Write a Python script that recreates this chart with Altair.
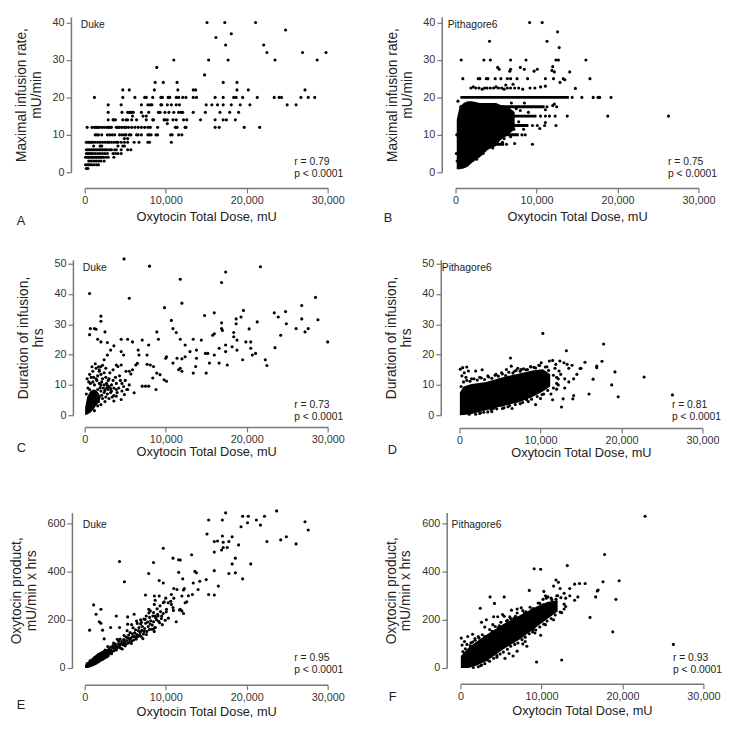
import altair as alt
import pandas as pd

FONT = "Liberation Sans"
X_TICKS = [0, 10000, 20000, 30000]
X_TITLE = "Oxytocin Total Dose, mU"

# ---------------- Panel A (Duke, maximal infusion rate) : (rate, [dose in thousands mU])
A_rows = [
    (1, [0.2, 0.4]),
    (2, [0.1, 0.3, 0.5, 0.7, 0.9, 1.2, 1.5, 1.7]),
    (3, [0.5, 0.8, 1.1, 1.4, 1.7, 2.0, 2.4]),
    (4, [0.1, 0.3, 0.5, 0.7, 0.9, 1.1, 1.3, 1.5, 1.7, 1.9, 2.1, 2.3, 2.6, 2.9, 3.6]),
    (5, [0.2, 0.4, 0.6, 0.8, 1.0, 1.3, 1.6, 1.9, 2.2, 2.5, 2.8, 3.5, 3.8, 4.1, 4.5]),
    (6, [0.2, 0.4, 0.6, 0.8, 1.0, 1.2, 1.4, 1.6, 1.8, 2.0, 2.2, 2.4, 2.6, 2.8, 3.1, 3.3, 3.7, 3.9, 4.5, 5.3, 5.7]),
    (7, [1.1, 1.9, 2.1, 4.1, 4.7, 4.9]),
    (8, [0.2, 0.4, 0.6, 0.8, 1.0, 1.3, 1.6, 1.9, 2.2, 2.5, 2.8, 3.0, 3.3, 3.6, 3.9, 4.1, 4.5, 4.9, 5.3, 6.1, 6.7, 7.8, 8.0, 10.7]),
    (9, [4.9, 5.3]),
    (10, [1.3, 1.5, 1.7, 2.1, 2.8, 3.1, 3.4, 3.7, 4.3, 4.6, 4.9, 5.1, 5.5, 5.7, 6.4, 6.6, 7.0, 7.8, 8.0, 8.2, 8.8, 9.0, 10.6, 10.8, 11.6, 12.0]),
    (12, [0.3, 0.9, 1.2, 1.4, 1.6, 1.8, 2.1, 2.4, 2.7, 2.9, 3.1, 3.3, 3.9, 4.1, 4.3, 4.6, 4.9, 5.1, 5.4, 5.8, 6.2, 6.6, 7.0, 7.4, 7.8, 8.1, 9.0, 11.2, 11.4, 12.4, 12.5, 16.1, 16.6, 19.7, 21.6]),
    (13, [10.2]),
    (14, [2.9, 3.5, 3.6, 3.8, 4.7, 5.1, 5.3, 5.8, 6.4, 7.6, 8.4, 8.5, 9.8, 9.9, 10.2, 10.9, 11.3, 12.2, 12.6, 14.3, 16.1, 17.1, 17.5, 18.6]),
    (15, [5.9, 7.2, 7.6]),
    (16, [2.9, 4.6, 5.3, 5.5, 5.7, 5.8, 6.0, 7.0, 7.9, 9.1, 9.3, 9.9, 10.4, 11.0, 11.6, 11.9, 12.1, 13.4, 14.9, 16.7, 17.9, 19.0]),
    (18, [2.9, 4.5, 7.0, 7.8, 8.1, 8.3, 9.4, 9.5, 10.2, 10.7, 11.3, 11.7, 15.0, 15.7, 16.4, 17.1, 18.1, 19.2, 20.4, 25.0, 26.1]),
    (20, [1.2, 4.7, 6.2, 7.4, 7.6, 8.4, 9.4, 9.6, 10.3, 10.5, 11.3, 11.6, 12.1, 12.5, 13.4, 13.8, 16.1, 17.1, 18.4, 18.7, 19.5, 21.3, 23.4, 24.0, 24.3, 26.7, 27.6, 28.4]),
    (22, [4.7, 5.5, 8.6, 11.5, 13.4, 13.7, 18.8, 20.2, 27.2]),
    (24, [8.7, 9.7, 11.4, 17.1, 18.8]),
    (26, [14.8]),
    (28, [8.9]),
    (30, [11.0, 15.3, 17.7, 23.5, 28.7]),
    (32, [22.5, 26.9, 29.8]),
    (34, [17.4, 22.1]),
    (36, [16.2]),
    (37, [18.1]),
    (38, [24.8]),
    (40, [15.1, 17.3, 21.1]),
]

# ---------------- Panel B (Pithagore6, maximal infusion rate)
B_points = [
    (9.15, 40), (10.7, 40), (12.6, 37.5), (4.2, 35), (11.3, 35), (12.8, 33.3),
    (0.7, 30), (3.5, 30), (4.3, 30), (6.8, 30), (8.7, 30), (12.4, 30), (12.7, 30), (16.1, 30),
    (5.2, 28), (5.4, 27.5), (6.8, 27.5), (6.7, 27), (8.0, 28), (8.5, 27.5), (9.7, 27), (10.1, 27.5),
    (11.9, 27.2), (12.0, 28.2), (12.2, 26.8), (14.1, 26.8),
    (0.9, 25), (2.8, 25), (3.0, 25), (3.8, 25), (4.0, 25), (4.9, 25), (5.6, 25), (6.4, 25), (6.8, 25),
    (7.6, 25), (8.9, 25), (11.1, 25), (12.1, 25), (13.3, 25), (16.6, 25), (12.9, 24), (13.5, 24.7),
    (1.9, 22.5), (2.2, 22.8), (2.5, 22.5), (2.9, 22.5), (3.3, 22.2), (3.6, 22.5), (3.9, 22.5), (4.3, 22.5),
    (4.7, 22.5), (5.0, 22.8), (5.3, 22.5), (5.7, 22.5), (6.0, 22.2), (6.4, 22.5), (6.8, 22.5), (7.3, 22.5),
    (7.8, 22.5), (8.3, 22.2), (9.2, 22.5), (9.8, 22.5), (10.5, 22.8), (11.1, 23), (6.2, 23.3), (7.1, 23.5),
    (14.8, 22.4), (14.4, 20), (15.6, 20), (17.0, 20), (17.6, 20), (17.8, 20), (19.2, 20),
    (12.2, 18.2), (12.5, 17.5), (11.1, 16.7), (12.0, 17.8), (11.3, 17.5),
    (10.5, 15), (11.1, 15), (11.6, 15), (12.3, 15), (13.8, 15), (18.8, 15), (26.3, 15),
    (11.1, 13.3), (12.4, 12.5), (10.4, 11.7), (9.5, 12.5), (10.1, 12.5), (11.0, 12.5),
    (8.2, 10), (8.6, 10), (7.3, 7.7), (9.5, 7.5), (6.3, 7.5), (6.0, 9), (5.8, 8),
    (7.0, 16), (7.5, 17), (8.0, 16.5), (8.5, 18.5), (9.0, 16), (6.9, 18.5), (7.2, 11.5), (7.8, 13.5),
    (8.4, 11.5), (6.8, 9.5), (0.1, 5), (0.2, 3), (0.15, 10), (0.3, 19), (2.6, 3.5), (3.4, 5), (4.6, 6.5),
]
B_band_rate = [20, 17.5, 15, 12.5, 10, 7.5]
B_band_from = [0.6, 0.5, 0.3, 0.3, 0.2, 0.2]
B_band_to = [14.0, 11.0, 10.0, 9.0, 7.8, 6.0]
B_core_dose = [0.15, 0.5, 1.0, 1.5, 2.0, 3.0, 4.0, 5.0, 5.5, 6.5, 7.3]
B_core_low = [0.8, 0.8, 1.0, 1.5, 2.5, 4.0, 6.0, 7.0, 8.5, 10.0, 11.5]
B_core_high = [14, 17.5, 18.5, 19, 19, 18.5, 18.5, 18.5, 18, 17.5, 16]

# ---------------- Panel C (Duke, duration of infusion)
C_points = [
    (4.86, 51.6), (8.0, 49.2), (21.7, 49.0), (17.4, 47.3), (11.8, 44.9), (16.9, 43.8), (0.6, 40.2),
    (12.0, 37.0), (5.5, 38.6), (28.5, 38.9), (9.85, 35.5), (26.8, 36.2), (19.6, 34.6), (24.8, 34.2),
    (23.4, 33.8), (23.9, 32.4), (16.0, 33.8), (14.8, 32.9), (19.3, 32.4), (2.0, 32.7), (16.9, 30.5),
    (18.7, 31.8), (10.7, 31.3), (26.8, 31.8), (28.8, 31.5), (21.3, 30.8), (18.7, 30.2), (2.0, 31.0),
    (24.9, 30.2), (26.1, 28.6), (27.2, 27.5), (27.6, 28.6), (20.3, 28.5), (16.9, 28.6), (17.0, 28.0),
    (10.9, 28.6), (11.3, 27.3), (8.9, 27.5), (0.6, 26.6), (0.7, 28.6), (1.2, 28.6), (1.4, 28.4),
    (2.5, 27.5), (24.2, 26.4), (15.8, 26.4), (16.0, 26.9), (18.4, 27.3), (18.4, 25.9), (18.8, 24.8),
    (19.9, 24.2), (20.5, 24.2), (30.0, 24.2), (13.4, 25.1), (14.4, 24.8), (11.8, 25.1), (9.1, 25.1),
    (4.5, 25.1), (5.3, 25.1), (5.9, 24.2), (1.6, 25.1), (2.0, 24.2), (2.8, 24.0), (3.6, 22.9),
    (7.1, 24.8), (7.9, 23.2), (12.4, 23.2), (17.4, 23.2), (18.2, 22.6), (23.5, 22.3), (16.6, 22.1),
    (18.8, 21.5), (20.5, 22.1), (17.4, 21.0), (13.0, 21.0), (13.8, 21.5), (14.9, 20.4), (15.2, 20.4),
    (16.0, 19.9), (20.7, 19.9), (21.1, 20.4), (22.3, 18.3), (22.5, 16.4), (19.5, 18.3), (17.6, 16.6),
    (16.6, 17.2), (15.4, 17.2), (15.0, 13.9), (13.4, 13.9), (13.7, 16.1), (13.8, 18.8), (12.4, 19.3),
    (11.4, 18.8), (12.0, 18.6), (10.9, 17.2), (11.6, 15.0), (12.0, 14.5), (11.8, 15.5), (10.1, 19.3),
    (10.0, 18.8), (9.8, 11.7), (10.1, 11.2), (9.3, 13.4), (8.9, 13.9), (8.4, 12.3), (8.5, 16.1),
    (7.7, 16.8), (8.1, 16.6), (7.9, 9.6), (7.1, 9.6), (7.5, 9.6), (8.8, 8.5), (7.7, 19.9), (6.6, 21.5),
    (6.7, 19.9), (6.3, 16.6), (6.5, 17.1), (5.9, 15.0), (5.5, 14.5), (5.1, 14.5), (5.7, 13.6),
    (4.5, 16.6), (3.9, 16.6), (4.1, 16.1), (4.8, 19.9), (4.5, 21.0), (3.2, 21.5), (2.8, 19.9),
    (2.4, 18.3), (2.0, 16.1), (1.4, 15.5), (1.8, 14.5), (6.1, 7.4), (5.3, 8.5), (4.9, 6.8), (4.5, 5.2),
    (3.9, 6.3), (3.6, 4.7),
    (0.3, 12), (0.5, 11), (0.7, 10.5), (1.0, 11), (1.2, 10), (1.5, 11.5), (1.8, 10.5), (2.1, 11),
    (2.4, 10), (2.7, 10.5), (3.0, 9.5), (3.3, 10), (3.6, 9), (3.9, 8.5), (4.2, 9), (2.2, 12),
    (2.6, 12.5), (3.0, 12), (3.5, 11.5), (1.6, 13), (2.0, 13.5), (2.4, 14), (1.2, 8), (1.6, 8.5),
    (2.0, 8), (2.4, 7.5), (2.8, 7), (3.2, 7.5), (3.6, 6.5), (1.8, 6), (2.2, 5.5), (2.6, 6), (2.3, 9),
    (2.7, 9), (2.9, 8.5), (3.3, 8), (4.0, 7.5), (3.4, 6), (0.8, 12.5), (1.0, 14.5), (1.8, 15),
    (2.6, 15.5), (0.9, 16), (1.3, 17), (1.7, 16), (2.2, 16.5), (4.6, 10.5), (5.0, 11.5), (5.5, 10),
    (4.8, 9.5), (3.8, 12.5), (4.3, 13), (3.1, 14), (3.5, 15), (4.4, 11.5), (1.4, 12), (2.9, 11.5),
    (3.9, 10.5), (5.2, 8.5), (4.6, 8), (2.0, 10), (1.1, 12.5), (0.6, 13.5), (0.4, 9), (1.4, 4),
    (1.7, 4.5), (2.0, 3.5), (1.0, 2.5), (1.2, 1.5), (0.9, 7), (2.5, 4.5), (0.2, 7), (0.6, 8.5), (3.0, 5.5),
    (2.1, 6.6), (2.5, 8.2), (1.5, 7.2), (1.9, 9.1), (2.8, 9.8), (3.2, 8.8), (1.3, 5.6), (1.6, 3.1),
]
C_core_dose = [0.05, 0.3, 0.7, 1.1, 1.5, 1.9]
C_core_low = [0, 0.2, 0.8, 2.0, 3.5, 5.0]
C_core_high = [2.5, 6.0, 8.0, 8.5, 8.0, 6.5]

# ---------------- Panel D (Pithagore6, duration of infusion)
D_points = [
    (10.3, 27.0), (17.8, 23.5), (13.2, 21.3), (6.3, 18.9), (15.5, 17.5), (17.6, 17.8), (16.95, 16.2),
    (16.95, 15.7), (19.2, 14.3), (22.8, 12.6), (14.9, 15.4), (13.9, 16.5), (13.5, 15.5), (16.5, 11.9),
    (18.8, 10.0), (19.6, 6.1), (26.3, 6.7), (16.0, 7.0), (14.1, 6.5), (12.8, 5.4), (14.0, 5.4),
    (11.5, 5.1), (9.4, 3.5), (12.6, 2.7), (6.5, 2.2), (5.3, 2.2), (4.2, 2.2), (3.25, 2.7), (5.1, 3.3),
    (10.2, 6.8), (11.3, 7.0), (12.0, 8.6), (0.9, 15.9), (0.4, 15.7), (0.1, 15.2), (1.1, 14.6),
    (0.6, 14.0), (2.0, 14.6), (2.8, 15.0), (5.8, 15.1), (6.4, 16.2), (7.6, 15.1), (8.8, 15.9),
    (10.1, 17.3), (11.1, 17.9), (11.5, 18.1), (11.9, 16.8), (12.4, 17.9), (12.9, 17.3), (13.3, 16.8),
    (12.3, 14.6), (12.5, 13.5), (11.8, 15.5), (10.8, 16.0), (9.8, 16.5), (12.0, 12.5), (13.0, 12.0),
    (11.0, 10.5), (12.2, 10.0), (13.5, 11.0), (14.1, 12.0), (0.3, 13.0), (0.8, 12.5), (1.5, 12.0),
    (2.5, 12.5), (3.5, 13.0), (4.5, 13.5), (5.2, 14.0), (6.8, 14.5), (7.2, 15.5), (8.2, 15.0),
    (9.2, 15.8), (1.2, 0.3), (2.5, 0.6), (4.0, 1.2), (6.0, 2.8), (7.5, 3.8), (8.5, 4.5), (10.0, 5.5),
    (3.0, 1.0), (15.0, 15.5), (14.5, 13.5), (13.0, 9.0), (9.0, 12.0),
    (0.2, 9.5), (0.5, 11), (0.9, 11.5), (1.3, 11.2), (1.8, 12), (2.2, 11.6), (2.7, 12.3), (3.1, 11.8),
    (3.6, 12.6), (4.0, 12.2), (4.4, 13.2), (4.8, 12.9), (5.3, 13.6), (5.7, 13.1), (6.1, 14.2),
    (6.6, 13.9), (7.0, 14.8), (7.5, 14.5), (7.9, 15.3), (8.4, 15.1), (8.8, 16.1), (9.4, 15.6),
    (9.9, 16.4), (10.6, 15.9), (11.0, 14.8), (11.6, 13.2), (12.2, 12.0),
    (2.0, 0.3), (2.6, 0.8), (3.5, 1.1), (3.9, 1.9), (4.6, 2.1), (5.5, 2.5), (6.2, 3.2), (6.9, 3.5),
    (7.8, 4.2), (8.3, 5.1), (8.9, 5.3), (9.6, 6.2), (10.4, 7.0), (10.9, 8.2), (11.6, 9.0), (12.0, 10.5),
]
D_core_dose = [0.05, 0.5, 1.5, 3.3, 5.0, 7.4, 9.0, 10.3, 11.2]
D_core_low = [0, 0.1, 0.4, 1.6, 2.8, 4.3, 6.0, 7.8, 9.5]
D_core_high = [7.5, 9.5, 10.3, 11.0, 12.3, 13.8, 14.8, 15.2, 13.5]

# ---------------- Panel E (Duke, oxytocin product)
E_points = [
    (23.7, 652), (15.3, 614), (17.0, 614), (17.4, 644), (19.5, 630), (20.2, 630), (21.2, 614),
    (22.2, 630), (21.7, 593), (20.1, 603), (19.3, 586), (27.2, 607), (27.6, 573), (15.1, 556),
    (17.0, 548), (18.2, 545), (16.0, 525), (16.4, 527), (17.1, 522), (17.8, 525), (17.1, 500),
    (17.6, 500), (16.9, 490), (19.0, 511), (22.5, 525), (24.2, 532), (24.9, 545), (26.1, 515),
    (9.7, 497), (16.0, 481), (18.6, 456), (20.5, 432), (18.2, 432), (10.9, 456), (11.6, 449),
    (11.8, 448), (8.5, 438), (4.3, 442), (13.2, 470), (11.6, 397), (16.0, 404), (13.6, 401),
    (13.8, 395), (17.8, 392), (18.6, 395), (7.9, 392), (12.1, 370), (19.5, 370), (4.9, 358),
    (9.2, 363), (9.7, 353), (15.0, 367), (16.5, 340), (13.4, 353), (14.0, 326), (11.4, 326),
    (15.3, 305), (16.0, 303), (13.3, 305), (12.0, 299), (10.7, 305), (7.5, 303), (8.6, 299),
    (9.2, 299), (8.7, 281), (9.7, 271), (10.3, 271), (10.7, 264), (10.9, 251), (11.8, 244),
    (12.2, 226), (12.0, 237), (12.4, 271), (12.6, 275), (8.6, 264), (9.3, 258), (10.1, 244),
    (7.9, 244), (8.1, 237), (8.5, 230), (9.0, 223), (9.5, 216), (7.6, 216), (8.7, 216), (8.0, 210),
    (7.3, 203), (8.7, 168), (8.5, 162), (6.1, 223), (5.3, 212), (3.9, 216), (2.0, 244), (1.1, 262),
    (1.4, 223), (1.8, 192), (2.0, 186), (0.6, 157), (2.2, 157), (4.3, 168), (5.3, 182), (3.2, 168),
    (2.4, 121), (6.9, 200), (7.0, 190), (6.4, 195), (5.8, 180), (12.8, 300), (14.2, 360),
    (12.3, 330), (11.0, 330), (10.0, 290), (11.0, 290),
    (0.22, 8), (0.31, 18), (0.47, 10), (0.58, 21), (0.66, 30), (0.79, 23), (0.88, 19), (0.97, 32),
    (1.08, 20), (1.19, 34), (1.27, 44), (1.38, 33), (1.52, 45), (1.61, 32), (1.73, 57), (1.86, 48),
    (1.94, 41), (2.07, 61), (2.18, 51), (2.26, 38), (2.39, 52), (2.51, 74), (2.63, 49), (2.72, 71),
    (2.84, 89), (2.98, 71), (3.06, 61), (3.19, 87), (3.31, 59), (3.42, 85), (3.57, 104), (3.66, 81),
    (3.78, 99), (3.91, 75), (4.03, 119), (4.17, 100), (4.26, 87), (4.38, 120), (4.52, 101), (4.64, 79),
    (4.77, 100), (4.86, 135), (4.99, 92), (5.13, 128), (5.24, 155), (5.38, 124), (5.47, 107),
    (5.61, 147), (5.76, 102), (5.88, 142), (5.97, 167), (6.12, 132), (6.27, 159), (6.36, 120),
    (6.49, 185), (6.63, 155), (6.78, 137), (6.91, 183), (7.04, 156), (7.18, 122), (7.33, 152),
    (7.46, 202), (7.62, 139), (7.77, 191), (7.93, 229), (8.08, 183), (8.26, 161), (8.41, 216),
    (8.58, 151), (8.77, 209), (8.94, 246), (9.13, 194), (9.36, 234), (9.58, 180), (9.82, 275),
    (10.07, 233), (10.33, 207), (10.62, 277), (10.95, 239), (11.3, 192), (11.7, 241), (12.2, 324),
    (1.15, 25), (1.42, 38), (1.67, 30), (1.98, 44), (2.12, 35), (2.33, 58), (2.46, 43), (2.58, 62),
    (2.69, 55), (2.91, 52), (3.02, 79), (3.14, 66), (3.26, 74), (3.37, 68), (3.49, 93), (3.61, 72),
    (3.72, 83), (3.84, 90), (3.97, 82), (4.09, 88), (4.21, 111), (4.33, 95), (4.44, 82), (4.58, 110),
    (4.69, 96), (4.82, 118), (4.93, 107), (5.06, 98), (5.18, 114), (5.31, 103), (5.42, 137),
    (5.55, 118), (5.68, 124), (5.81, 112), (5.92, 130), (6.05, 116), (6.18, 146), (6.31, 127),
    (6.44, 139), (6.57, 131), (6.7, 168), (6.85, 148), (6.97, 131), (7.11, 172), (7.25, 141),
    (7.39, 164), (7.53, 186), (7.68, 152), (7.84, 172), (8.0, 160), (8.15, 196), (8.33, 178),
    (8.5, 192), (8.68, 168), (8.86, 200), (9.05, 216), (9.24, 188), (9.47, 205), (9.7, 226), (9.94, 198),
]
E_core_dose = [0.05, 0.4, 0.9, 1.5, 2.2, 3.0]
E_core_low = [0, 0, 5, 15, 30, 45]
E_core_high = [12, 25, 42, 58, 72, 82]

# ---------------- Panel F (Pithagore6, oxytocin product)
F_points = [
    (22.8, 630), (17.8, 471), (13.2, 425), (9.1, 412), (9.9, 410), (19.6, 362), (17.6, 358),
    (17.0, 324), (16.9, 320), (16.7, 295), (19.2, 285), (16.0, 210), (18.8, 150), (26.3, 98),
    (12.5, 33), (9.4, 25), (14.7, 351), (15.4, 351), (14.1, 348), (11.8, 365), (12.1, 356),
    (8.5, 322), (10.3, 318), (10.5, 300), (11.5, 340), (12.3, 330), (13.5, 330), (12.8, 310),
    (12.0, 300), (13.0, 290), (14.1, 281), (14.5, 295), (11.2, 290), (10.8, 295), (3.66, 295),
    (5.4, 295), (2.45, 248), (4.2, 268), (5.4, 215), (5.2, 222), (4.1, 213), (4.6, 213), (3.2, 200),
    (2.6, 190), (4.0, 180), (3.0, 170), (6.3, 240), (7.0, 245), (7.5, 250), (0.1, 124), (0.9, 131),
    (0.5, 110), (1.5, 140), (0.2, 95), (1.3, 105), (9.2, 145), (9.9, 136), (7.7, 100), (6.5, 50),
    (3.3, 33), (5.5, 40), (8.2, 90), (10.5, 180), (11.5, 200), (12.5, 230), (7.0, 70), (4.5, 45),
    (2.5, 10), (6.0, 60), (8.0, 110), (9.0, 160), (3.5, 100), (2.0, 20), (1.0, 65), (6.2, 205),
    (8.8, 240), (9.6, 270), (11.0, 265), (11.8, 285), (12.8, 265), (13.5, 300), (10.2, 285),
    (2.2, 130), (1.8, 115), (6.8, 215), (7.9, 228), (5.7, 195), (4.8, 175), (13.0, 255), (11.5, 245),
    (0.3, 68), (0.6, 80), (0.8, 98), (1.2, 93), (1.5, 108), (1.8, 122), (2.3, 124), (2.7, 138),
    (3.0, 131), (3.6, 160), (3.9, 152), (4.3, 172), (4.7, 168), (5.0, 190), (5.8, 198), (6.1, 212),
    (6.6, 206), (7.0, 228), (7.7, 238), (8.1, 233), (8.6, 252), (9.0, 247), (9.8, 268), (10.2, 262),
    (10.6, 290), (11.3, 282), (11.9, 300), (12.4, 292),
    (1.6, 2), (2.2, 5), (2.6, 12), (3.0, 18), (3.6, 28), (4.1, 40), (4.5, 52), (4.9, 58), (5.3, 66),
    (5.8, 78), (6.2, 90), (6.7, 98), (7.1, 104), (7.6, 118), (8.0, 128), (8.5, 142), (8.9, 150),
    (9.3, 158), (9.8, 170), (10.3, 182), (10.7, 195), (11.2, 205), (11.7, 220), (12.3, 232), (12.8, 245),
]
F_core_dose = [0.05, 1.0, 2.0, 3.3, 5.4, 7.4, 9.4, 10.8, 12.0]
F_core_low = [0, 0, 10, 30, 80, 120, 170, 205, 235]
F_core_high = [50, 85, 110, 140, 185, 220, 255, 275, 280]


def rows_df(rows):
    xs, ys = [], []
    for y, xl in rows:
        for x in xl:
            xs.append(x * 1000)
            ys.append(y)
    return pd.DataFrame({"x": xs, "y": ys})


def pairs_df(pairs):
    return pd.DataFrame({"x": [p[0] * 1000 for p in pairs], "y": [p[1] for p in pairs]})


W, H = 247, 158


def panel(points, ydomain, yticks, ytitle, source, rp, letter, core=None, bands=None,
          yoff=14, xoff=15, src_x=-4, src_y=8, rp_x=213, letter_x=-69, letter_dy=46, tpad=5):
    xs = alt.Scale(domain=[0, 30000], nice=False, zero=False)
    ys = alt.Scale(domain=ydomain, nice=False, zero=False)
    xaxis = alt.Axis(values=X_TICKS, format=",.0f", title=X_TITLE, offset=xoff, grid=False,
                     labelFlush=False, titleFontSize=13, titlePadding=tpad)
    yaxis = alt.Axis(values=yticks, title=ytitle, offset=yoff, grid=False, labelFlush=False,
                     titleFontSize=14, titlePadding=9, titleLineHeight=15)

    def X():
        return alt.X("x:Q", scale=xs, axis=xaxis)

    def Y():
        return alt.Y("y:Q", scale=ys, axis=yaxis)

    layers = []
    if core is not None:
        cx, clo, chi = core
        cdf = pd.DataFrame({"x": [v * 1000 for v in cx], "y": clo, "y2": chi})
        layers.append(alt.Chart(cdf).mark_area(color="black", opacity=1).encode(
            x=X(), y=Y(), y2=alt.Y2("y2:Q")))
    if bands is not None:
        by, bx0, bx1 = bands
        bdf = pd.DataFrame({"y": by, "x": [v * 1000 for v in bx0], "x2": [v * 1000 for v in bx1]})
        layers.append(alt.Chart(bdf).mark_rule(color="black", strokeWidth=3).encode(
            x=X(), x2=alt.X2("x2:Q"), y=Y()))
    layers.append(alt.Chart(points).mark_circle(color="black", size=10, opacity=1).encode(x=X(), y=Y()))
    layers.append(alt.Chart(pd.DataFrame({"t": [source]})).mark_text(
        align="left", baseline="middle", fontSize=10.5, font=FONT, color="#222").encode(
        x=alt.value(src_x), y=alt.value(src_y), text="t:N"))
    layers.append(alt.Chart(pd.DataFrame({"t": [rp]})).mark_text(
        align="left", baseline="middle", fontSize=10.5, font=FONT, color="#222",
        lineBreak="\n", lineHeight=12).encode(
        x=alt.value(rp_x), y=alt.value(H - 10), text="t:N"))
    layers.append(alt.Chart(pd.DataFrame({"t": [letter]})).mark_text(
        align="left", baseline="middle", fontSize=13, font=FONT, color="#222").encode(
        x=alt.value(letter_x), y=alt.value(H + letter_dy), text="t:N"))
    return alt.layer(*layers).properties(width=W, height=H)


A = panel(rows_df(A_rows), [0, 41.5], [0, 10, 20, 30, 40],
          ["Maximal infusion rate,", "mU/min"], "Duke", "r = 0.79\np < 0.0001", "A",
          yoff=14, xoff=16, src_x=-4, letter_dy=50, tpad=5)
B = panel(pairs_df(B_points), [0, 41.5], [0, 10, 20, 30, 40],
          ["Maximal infusion rate,", "mU/min"], "Pithagore6", "r = 0.75\np < 0.0001", "B",
          core=(B_core_dose, B_core_low, B_core_high),
          bands=(B_band_rate, B_band_from, B_band_to),
          yoff=14, xoff=16, src_x=-8, rp_x=216, letter_x=-73, letter_dy=47, tpad=5)
C = panel(pairs_df(C_points), [0, 51.3], [0, 10, 20, 30, 40, 50],
          ["Duration of infusion,", "hrs"], "Duke", "r = 0.73\np < 0.0001", "C",
          core=(C_core_dose, C_core_low, C_core_high), yoff=12, xoff=12, src_x=-2,
          letter_dy=33, tpad=1)
D = panel(pairs_df(D_points), [0, 51.3], [0, 10, 20, 30, 40, 50],
          ["Duration of infusion,", "hrs"], "Pithagore6", "r = 0.81\np < 0.0001", "D",
          core=(D_core_dose, D_core_low, D_core_high), yoff=19, xoff=13, src_x=-18,
          rp_x=216, letter_x=-73, letter_dy=35, tpad=1)
E = panel(pairs_df(E_points), [0, 645], [0, 200, 400, 600],
          ["Oxytocin product,", "mU/min x hrs"], "Duke", "r = 0.95\np < 0.0001", "E",
          core=(E_core_dose, E_core_low, E_core_high), yoff=13, xoff=17, src_x=-2, src_y=13,
          letter_dy=38, tpad=3)
F = panel(pairs_df(F_points), [0, 645], [0, 200, 400, 600],
          ["Oxytocin product,", "mU/min x hrs"], "Pithagore6", "r = 0.93\np < 0.0001", "F",
          core=(F_core_dose, F_core_low, F_core_high), yoff=14, xoff=16, src_x=-9, src_y=13,
          rp_x=216, letter_x=-73, letter_dy=30, tpad=3)

row1 = alt.hconcat(A, B, spacing=40)
row2 = alt.hconcat(C, D, spacing=40)
row3 = alt.hconcat(E, F, spacing=40)

chart = alt.vconcat(alt.vconcat(row1, row2, spacing=29), row3, spacing=50).properties(
    padding={"left": 1, "top": 2, "right": 5, "bottom": 5}
).configure_view(
    strokeWidth=0
).configure_axis(
    domainColor="#777777", domainWidth=1.5, tickColor="#777777", tickWidth=1.2, tickSize=5,
    labelColor="#333333", labelFontSize=11, labelFont=FONT, labelPadding=2,
    titleFont=FONT, titleFontWeight="normal", titleColor="#222222"
)

chart.save("out.html", embed_options={"renderer": "svg", "actions": False})
